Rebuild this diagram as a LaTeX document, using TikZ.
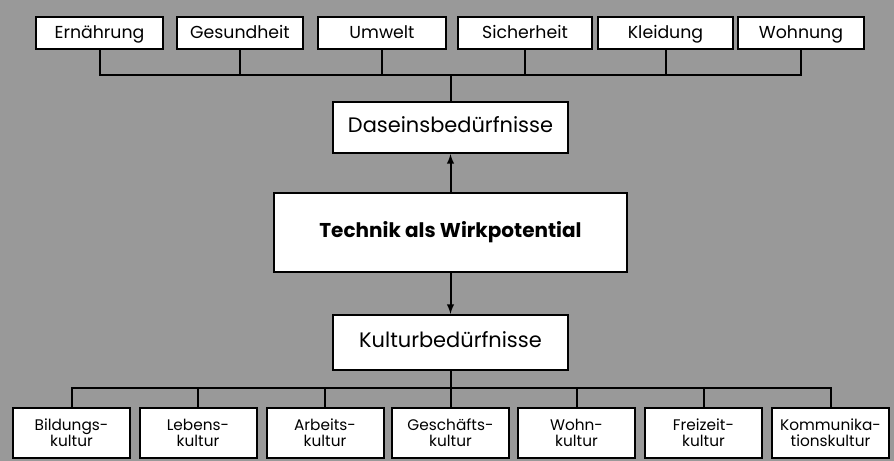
\documentclass[tikz,border=0pt]{standalone}
\usepackage{fontspec}
\setmainfont{Poppins}
\definecolor{bggray}{gray}{0.6}
\tikzset{
  needbox/.style={draw, fill=white, line width=1.5pt, inner sep=0pt, align=center},
  topbox/.style={needbox, minimum height=24pt, text height=1.6ex, text depth=.2ex, font=\fontsize{13}{15}\selectfont},
  midbox/.style={needbox, text height=1.6ex, text depth=.2ex, font=\fontsize{15.7}{18}\selectfont},
  culbox/.style={needbox, minimum width=87.75pt, minimum height=37.5pt, font=\fontsize{11.5}{12}\selectfont},
}
\begin{document}
\begin{tikzpicture}[x=0.75pt, y=-0.75pt, line width=1.5pt]
        % Background
        \fill[bggray] (0,0) rectangle (894,461);

        % Top row: basic needs
        \node[topbox, minimum width=95.25pt] (ern) at (99.5,33) {Ernährung};
        \node[topbox, minimum width=94.5pt] (ges) at (240,33) {Gesundheit};
        \node[topbox, minimum width=96pt] (umw) at (382,33) {Umwelt};
        \node[topbox, minimum width=100.5pt] (sic) at (525,33) {Sicherheit};
        \node[topbox, minimum width=101.25pt] (kle) at (665.5,33) {Kleidung};
        \node[topbox, minimum width=94.5pt] (woh) at (801,33) {Wohnung};

        % Middle column
        \node[midbox, minimum width=176.25pt, minimum height=38.25pt] (das) at (450.5,127.5) {Daseinsbedürfnisse};
        \node[midbox, minimum width=264.75pt, minimum height=59.25pt, font=\fontsize{15}{18}\selectfont\bfseries] (tec) at (450.5,232.5) {Technik als Wirkpotential};
        \node[midbox, minimum width=176.25pt, minimum height=41.25pt] (kul) at (450.5,342.5) {Kulturbedürfnisse};

        % Bottom row: cultures
        \node[culbox] (bil) at (71.5,433) {Bildungs-\\kultur};
        \node[culbox] (leb) at (198,433) {Lebens-\\kultur};
        \node[culbox] (arb) at (325,433) {Arbeits-\\kultur};
        \node[culbox] (ges2) at (450.5,433) {Geschäfts-\\kultur};
        \node[culbox] (wku) at (576.5,433) {Wohn-\\kultur};
        \node[culbox] (fre) at (703.5,433) {Freizeit-\\kultur};
        \node[culbox] (kom) at (830.5,433) {Kommunika-\\tionskultur};

        % Bus lines
        \coordinate (busT) at (0,75);
        \coordinate (busB) at (0,388);

        % Upper tree
        \draw (ern.south) -- (ern.south |- busT) -- (woh.south |- busT) -- (woh.south);
        \draw (ges.south) -- (ges.south |- busT);
        \draw (umw.south) -- (umw.south |- busT);
        \draw (sic.south) -- (sic.south |- busT);
        \draw (kle.south) -- (kle.south |- busT);
        \draw (das.north) -- (das.north |- busT);

        % Arrows out of the centre
        \draw[-latex] (tec.north) -- (das.south);
        \draw[-latex] (tec.south) -- (kul.north);

        % Lower tree
        \draw (kul.south) -- (kul.south |- busB);
        \draw (bil.north) -- (bil.north |- busB) -- (kom.north |- busB) -- (kom.north);
        \draw (leb.north) -- (leb.north |- busB);
        \draw (arb.north) -- (arb.north |- busB);
        \draw (ges2.north) -- (ges2.north |- busB);
        \draw (wku.north) -- (wku.north |- busB);
        \draw (fre.north) -- (fre.north |- busB);
\end{tikzpicture}
\end{document}
